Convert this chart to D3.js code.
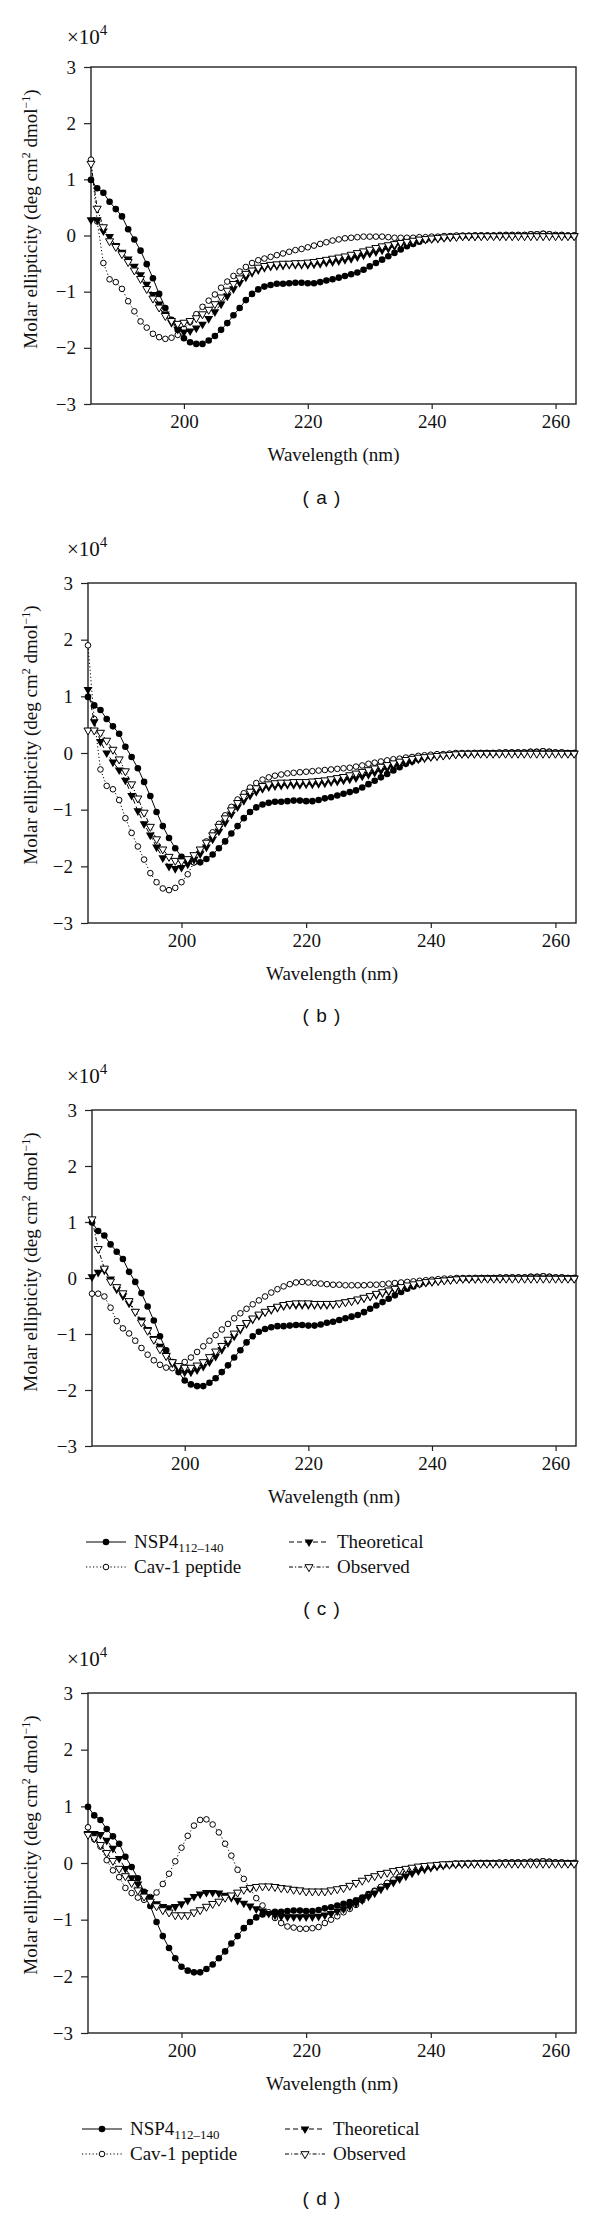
<!DOCTYPE html>
<html><head><meta charset="utf-8">
<script src="https://cdn.jsdelivr.net/npm/d3@7/dist/d3.min.js"></script>
<style>
html,body{margin:0;padding:0;background:#fff;}
svg{display:block;}
text{font-family:"Liberation Serif","Times New Roman",serif;fill:#111;}
</style></head>
<body>
<script>
// Wavelength grid (nm)
const wavelengths = [185,186,187,188,189,190,191,192,193,194,195,196,197,198,199,200,201,202,203,204,205,206,207,208,209,210,211,212,213,214,215,216,217,218,219,220,221,222,223,224,225,226,227,228,229,230,231,232,233,234,235,236,237,238,239,240,241,242,243,244,245,246,247,248,249,250,251,252,253,254,255,256,257,258,259,260,261,262,263];

// Molar ellipticity (x10^4)
const nsp4 = [0.99,0.84,0.76,0.60,0.47,0.34,0.11,-0.07,-0.27,-0.51,
 -0.76,-1.04,-1.29,-1.50,-1.68,-1.83,-1.90,-1.93,-1.93,-1.87,
 -1.79,-1.68,-1.56,-1.42,-1.29,-1.15,-1.04,-0.96,-0.91,-0.88,
 -0.86,-0.86,-0.85,-0.84,-0.84,-0.85,-0.85,-0.83,-0.80,-0.78,
 -0.75,-0.72,-0.69,-0.66,-0.61,-0.55,-0.49,-0.43,-0.37,-0.31,
 -0.25,-0.19,-0.15,-0.11,-0.08,-0.06,-0.04,-0.03,-0.02,-0.01,
 -0.01,-0.01,0,0,0,0,0,0.01,0.01,0.01,
 0.01,0.02,0.02,0.03,0.02,0.01,0.01,0,0];

const cavA = [1.35,0.25,-0.49,-0.78,-0.83,-0.95,-1.17,-1.35,-1.53,-1.64,
 -1.75,-1.81,-1.84,-1.82,-1.77,-1.66,-1.54,-1.40,-1.27,-1.16,
 -1.05,-0.93,-0.82,-0.72,-0.64,-0.56,-0.49,-0.44,-0.41,-0.38,
 -0.35,-0.32,-0.29,-0.26,-0.24,-0.21,-0.18,-0.15,-0.12,-0.09,
 -0.07,-0.05,-0.04,-0.03,-0.02,-0.02,-0.02,-0.02,-0.03,-0.04,
 -0.04,-0.04,-0.04,-0.03,-0.03,-0.02,-0.02,-0.01,-0.01,0,
 0,0,0,0,0,0,0.01,0.01,0.01,0.01,
 0.01,0.02,0.02,0.03,0.02,0.01,0.01,0,0];
const theoA = [0.28,0.28,0.08,-0.02,-0.18,-0.30,-0.42,-0.55,-0.70,-0.87,
 -1.05,-1.22,-1.40,-1.55,-1.67,-1.72,-1.70,-1.65,-1.58,-1.48,
 -1.36,-1.22,-1.08,-0.95,-0.84,-0.74,-0.66,-0.61,-0.57,-0.55,
 -0.54,-0.53,-0.52,-0.52,-0.52,-0.52,-0.51,-0.50,-0.48,-0.47,
 -0.45,-0.43,-0.41,-0.38,-0.35,-0.32,-0.29,-0.26,-0.23,-0.19,
 -0.16,-0.13,-0.10,-0.08,-0.07,-0.06,-0.05,-0.04,-0.03,-0.02,
 -0.01,-0.01,-0.01,0,0,0,0,0,0,0,
 0,0,0,0,0,0,0,0,0];
const obsA = [1.28,0.48,0.15,-0.10,-0.20,-0.33,-0.47,-0.62,-0.77,-0.95,
 -1.12,-1.28,-1.43,-1.52,-1.57,-1.55,-1.52,-1.47,-1.40,-1.32,
 -1.22,-1.10,-0.98,-0.86,-0.76,-0.68,-0.62,-0.57,-0.54,-0.52,
 -0.51,-0.50,-0.50,-0.49,-0.49,-0.48,-0.47,-0.45,-0.43,-0.41,
 -0.39,-0.37,-0.34,-0.31,-0.28,-0.25,-0.22,-0.19,-0.17,-0.15,
 -0.13,-0.11,-0.09,-0.07,-0.06,-0.05,-0.04,-0.03,-0.02,-0.02,
 -0.01,-0.01,-0.01,-0.01,-0.01,-0.01,-0.01,-0.01,-0.01,-0.01,
 -0.01,-0.01,-0.01,-0.01,-0.01,-0.01,-0.01,-0.01,-0.01];

const cavB = [1.90,0.60,-0.29,-0.58,-0.64,-0.83,-1.15,-1.41,-1.65,-1.88,
 -2.12,-2.28,-2.39,-2.42,-2.38,-2.28,-2.14,-1.93,-1.72,-1.56,
 -1.40,-1.25,-1.10,-0.95,-0.82,-0.71,-0.61,-0.53,-0.47,-0.43,
 -0.40,-0.38,-0.36,-0.35,-0.34,-0.33,-0.32,-0.31,-0.30,-0.29,
 -0.28,-0.27,-0.26,-0.24,-0.22,-0.19,-0.17,-0.15,-0.13,-0.11,
 -0.10,-0.08,-0.07,-0.05,-0.04,-0.03,-0.02,-0.02,-0.01,0,
 0,0,0,0,0,0,0.01,0.01,0.01,0.01,
 0.01,0.02,0.02,0.03,0.02,0.01,0.01,0,0];
const theoB = [1.12,0.55,0.20,0.00,-0.16,-0.30,-0.48,-0.75,-1.02,-1.25,
 -1.45,-1.66,-1.85,-2.00,-2.04,-2.02,-1.96,-1.88,-1.78,-1.66,
 -1.52,-1.38,-1.23,-1.08,-0.95,-0.84,-0.75,-0.68,-0.63,-0.60,
 -0.58,-0.57,-0.56,-0.56,-0.56,-0.55,-0.55,-0.54,-0.53,-0.51,
 -0.50,-0.48,-0.46,-0.44,-0.41,-0.38,-0.34,-0.31,-0.27,-0.24,
 -0.20,-0.17,-0.14,-0.11,-0.09,-0.07,-0.05,-0.04,-0.03,-0.02,
 -0.01,-0.01,-0.01,0,0,0,0,0,0,0,
 0,0,0,0,0,0,0,0,0];
const obsB = [0.40,0.40,0.36,0.22,0.06,-0.11,-0.32,-0.55,-0.80,-1.05,
 -1.30,-1.52,-1.70,-1.83,-1.90,-1.91,-1.87,-1.80,-1.70,-1.58,
 -1.45,-1.30,-1.15,-1.01,-0.88,-0.77,-0.68,-0.62,-0.58,-0.55,
 -0.53,-0.52,-0.52,-0.51,-0.51,-0.51,-0.50,-0.49,-0.48,-0.46,
 -0.44,-0.42,-0.39,-0.36,-0.33,-0.30,-0.27,-0.24,-0.21,-0.18,
 -0.15,-0.12,-0.10,-0.08,-0.07,-0.06,-0.05,-0.04,-0.03,-0.02,
 -0.01,-0.01,-0.01,-0.01,-0.01,-0.01,-0.01,-0.01,-0.01,-0.01,
 -0.01,-0.01,-0.01,-0.01,-0.01,-0.01,-0.01,-0.01,-0.01];

const cavC = [-0.28,-0.28,-0.33,-0.53,-0.77,-0.90,-0.99,-1.12,-1.25,-1.37,
 -1.47,-1.55,-1.60,-1.61,-1.58,-1.50,-1.42,-1.32,-1.22,-1.12,
 -1.02,-0.92,-0.82,-0.72,-0.63,-0.55,-0.47,-0.40,-0.33,-0.26,
 -0.20,-0.15,-0.11,-0.08,-0.07,-0.08,-0.09,-0.10,-0.11,-0.12,
 -0.12,-0.13,-0.13,-0.13,-0.13,-0.12,-0.12,-0.11,-0.10,-0.09,
 -0.08,-0.07,-0.06,-0.05,-0.04,-0.03,-0.02,-0.01,-0.01,0,
 0,0,0,0,0,0,0.01,0.01,0.01,0.01,
 0.01,0.02,0.02,0.03,0.02,0.01,0.01,0,0];
const theoC = [0.02,0.10,0.14,-0.02,-0.20,-0.32,-0.45,-0.60,-0.75,-0.92,
 -1.08,-1.22,-1.38,-1.52,-1.62,-1.68,-1.68,-1.64,-1.58,-1.50,
 -1.40,-1.28,-1.16,-1.04,-0.92,-0.82,-0.74,-0.67,-0.61,-0.57,
 -0.53,-0.50,-0.48,-0.48,-0.48,-0.48,-0.48,-0.48,-0.48,-0.47,
 -0.45,-0.43,-0.41,-0.39,-0.36,-0.33,-0.30,-0.27,-0.24,-0.21,
 -0.18,-0.15,-0.12,-0.10,-0.08,-0.07,-0.05,-0.04,-0.03,-0.02,
 -0.01,-0.01,-0.01,0,0,0,0,0,0,0,
 0,0,0,0,0,0,0,0,0];
const obsC = [1.05,0.52,0.17,-0.06,-0.16,-0.27,-0.41,-0.60,-0.79,-0.94,
 -1.10,-1.27,-1.39,-1.50,-1.57,-1.60,-1.60,-1.56,-1.50,-1.41,
 -1.31,-1.21,-1.10,-0.99,-0.89,-0.80,-0.72,-0.65,-0.60,-0.55,
 -0.51,-0.48,-0.46,-0.45,-0.45,-0.45,-0.46,-0.46,-0.46,-0.46,
 -0.45,-0.43,-0.41,-0.38,-0.35,-0.32,-0.28,-0.25,-0.22,-0.19,
 -0.16,-0.13,-0.11,-0.09,-0.07,-0.06,-0.05,-0.04,-0.03,-0.02,
 -0.01,-0.01,-0.01,-0.01,-0.01,-0.01,-0.01,-0.01,-0.01,-0.01,
 -0.01,-0.01,-0.01,-0.01,-0.01,-0.01,-0.01,-0.01,-0.01];

const cavD = [0.63,0.42,0.29,0.05,-0.13,-0.25,-0.44,-0.53,-0.61,-0.65,
 -0.60,-0.52,-0.37,-0.19,0.03,0.27,0.48,0.66,0.76,0.77,
 0.68,0.54,0.34,0.13,-0.12,-0.28,-0.45,-0.62,-0.75,-0.87,
 -0.97,-1.06,-1.12,-1.14,-1.16,-1.16,-1.15,-1.13,-1.06,-1.00,
 -0.94,-0.87,-0.81,-0.74,-0.66,-0.58,-0.50,-0.42,-0.35,-0.29,
 -0.24,-0.19,-0.15,-0.12,-0.09,-0.07,-0.05,-0.04,-0.03,-0.02,
 -0.01,0,0,0,0,0,0.01,0.01,0.01,0.01,
 0.01,0.02,0.02,0.03,0.02,0.01,0.01,0,0];
const theoD = [0.52,0.52,0.50,0.40,0.26,0.08,-0.10,-0.26,-0.37,-0.52,
 -0.61,-0.72,-0.77,-0.79,-0.77,-0.72,-0.66,-0.59,-0.55,-0.52,
 -0.52,-0.53,-0.57,-0.61,-0.66,-0.71,-0.76,-0.81,-0.85,-0.89,
 -0.92,-0.94,-0.95,-0.95,-0.95,-0.95,-0.95,-0.94,-0.92,-0.89,
 -0.85,-0.81,-0.76,-0.71,-0.65,-0.59,-0.53,-0.46,-0.40,-0.34,
 -0.28,-0.23,-0.18,-0.14,-0.11,-0.08,-0.06,-0.04,-0.03,-0.02,
 -0.01,-0.01,-0.01,0,0,0,0,0,0,0,
 0,0,0,0,0,0,0,0,0];
const obsD = [0.50,0.44,0.32,0.18,0.04,-0.10,-0.23,-0.35,-0.48,-0.59,
 -0.68,-0.76,-0.83,-0.87,-0.92,-0.92,-0.92,-0.87,-0.83,-0.77,
 -0.72,-0.68,-0.61,-0.57,-0.52,-0.47,-0.44,-0.42,-0.41,-0.41,
 -0.42,-0.44,-0.45,-0.47,-0.48,-0.50,-0.50,-0.50,-0.50,-0.48,
 -0.46,-0.44,-0.40,-0.35,-0.31,-0.26,-0.23,-0.19,-0.17,-0.14,
 -0.12,-0.10,-0.08,-0.06,-0.05,-0.04,-0.03,-0.02,-0.02,-0.01,
 -0.01,-0.01,-0.01,-0.01,-0.01,-0.01,-0.01,-0.01,-0.01,-0.01,
 -0.01,-0.01,-0.01,-0.01,-0.01,-0.01,-0.01,-0.01,-0.01];

// Axis ticks and labels
const xTicks = [200, 220, 240, 260];
const yTicks = [3, 2, 1, 0, -1, -2, -3];
const xDomain = [185, 263.3];
const yDomain = [-3, 3];
const seriesNames = ["NSP4", "Cav-1 peptide", "Theoretical", "Observed"];

const panels = [
  {letter:"a", cav:cavA, theo:theoA, obs:obsA, L:91, R:576, T:67,   B:404,  expY:-23, lab:94,  legend:false},
  {letter:"b", cav:cavB, theo:theoB, obs:obsB, L:88, R:576, T:583,  B:923,  expY:-27, lab:93,  legend:false},
  {letter:"c", cav:cavC, theo:theoC, obs:obsC, L:92, R:576, T:1110, B:1446, expY:-27, lab:163, legend:true},
  {letter:"d", cav:cavD, theo:theoD, obs:obsD, L:88, R:576, T:1693, B:2033, expY:-27, lab:166, legend:true}
];

const svg = d3.select("body").append("svg").attr("width", 600).attr("height", 2215);
svg.append("rect").attr("width", 600).attr("height", 2215).attr("fill", "#fff");

const styles = {
  nsp4: {dash: null,        marker: "fcircle"},
  cav:  {dash: "1.2,2.3",   marker: "ocircle"},
  theo: {dash: "5,3",       marker: "ftri"},
  obs:  {dash: "4,2,1.2,2", marker: "otri"}
};

function drawMarker(g, type, x, y) {
  if (type === "fcircle") {
    g.append("circle").attr("cx", x).attr("cy", y).attr("r", 3.3).attr("fill", "#000");
  } else if (type === "ocircle") {
    g.append("circle").attr("cx", x).attr("cy", y).attr("r", 2.8).attr("fill", "#fff").attr("stroke", "#000").attr("stroke-width", 1);
  } else if (type === "ftri") {
    g.append("path").attr("d", d3.symbol().type(d3.symbolTriangle).size(34)())
      .attr("transform", `translate(${x},${y}) rotate(180)`).attr("fill", "#000");
  } else {
    g.append("path").attr("d", d3.symbol().type(d3.symbolTriangle).size(28)())
      .attr("transform", `translate(${x},${y}) rotate(180)`).attr("fill", "#fff").attr("stroke", "#000").attr("stroke-width", 1);
  }
}

panels.forEach(p => {
  const x = d3.scaleLinear().domain(xDomain).range([p.L, p.R]);
  const y = d3.scaleLinear().domain(yDomain).range([p.B, p.T]);
  const g = svg.append("g");

  // axes
  const xa = g.append("g").attr("transform", `translate(0,${p.B})`)
    .call(d3.axisBottom(x).tickValues(xTicks).tickSize(5).tickSizeOuter(0).tickPadding(5).tickFormat(d3.format("d")));
  const ya = g.append("g").attr("transform", `translate(${p.L},0)`)
    .call(d3.axisLeft(y).tickValues(yTicks).tickSize(7).tickSizeOuter(0).tickPadding(8).tickFormat(d3.format("d")));
  [xa, ya].forEach(a => {
    a.select(".domain").remove();
    a.selectAll(".tick line").attr("stroke", "#222").attr("stroke-width", 1.2);
    a.selectAll(".tick text").style("font-family", '"Liberation Serif","Times New Roman",serif')
      .style("font-size", "19px").attr("fill", "#111");
  });
  xa.selectAll(".tick text").attr("dy", "0.75em");
  g.append("rect").attr("x", p.L).attr("y", p.T).attr("width", p.R - p.L).attr("height", p.B - p.T)
    .attr("fill", "none").attr("stroke", "#222").attr("stroke-width", 1.4);

  // exponent label
  const ex = g.append("text").attr("x", 67).attr("y", p.T + p.expY).style("font-size", "21px");
  ex.append("tspan").text("×10");
  ex.append("tspan").attr("dy", -9).style("font-size", "15px").text("4");

  // axis titles
  g.append("text").attr("x", (p.L + p.R) / 2).attr("y", p.B + 57).attr("text-anchor", "middle")
    .style("font-size", "19px").text("Wavelength (nm)");
  const yt = g.append("text").attr("transform", `translate(37,${p.T + 152}) rotate(-90)`)
    .attr("text-anchor", "middle").style("font-size", "19px");
  yt.append("tspan").text("Molar ellipticity (deg cm");
  yt.append("tspan").attr("dy", -7).style("font-size", "12px").text("2");
  yt.append("tspan").attr("dy", 7).text(" dmol");
  yt.append("tspan").attr("dy", -7).style("font-size", "12px").text("−1");
  yt.append("tspan").attr("dy", 7).text(")");

  // series
  const series = [
    {vals: nsp4, st: styles.nsp4},
    {vals: p.cav, st: styles.cav},
    {vals: p.theo, st: styles.theo},
    {vals: p.obs, st: styles.obs}
  ];
  const line = d3.line().x((d, i) => x(wavelengths[i])).y(d => y(d));
  series.forEach(s => {
    const sg = g.append("g");
    sg.append("path").attr("d", line(s.vals)).attr("fill", "none").attr("stroke", "#000")
      .attr("stroke-width", 1).attr("stroke-dasharray", s.st.dash);
    s.vals.forEach((v, i) => drawMarker(sg, s.st.marker, x(wavelengths[i]), y(v)));
  });

  // legend
  if (p.legend) {
    const r1 = p.B + 96, r2 = p.B + 121;
    const lg = g.append("g");
    const items = [
      {st: styles.nsp4, x0: p.L - 6, yy: r1, name: seriesNames[0], sub: "112–140"},
      {st: styles.cav,  x0: p.L - 6, yy: r2, name: seriesNames[1]},
      {st: styles.theo, x0: p.L + 197, yy: r1, name: seriesNames[2]},
      {st: styles.obs,  x0: p.L + 197, yy: r2, name: seriesNames[3]}
    ];
    items.forEach(it => {
      lg.append("line").attr("x1", it.x0).attr("x2", it.x0 + 40).attr("y1", it.yy).attr("y2", it.yy)
        .attr("stroke", "#000").attr("stroke-width", 1.2).attr("stroke-dasharray", it.st.dash);
      drawMarker(lg, it.st.marker, it.x0 + 20, it.yy);
      const t = lg.append("text").attr("x", it.x0 + 48).attr("y", it.yy + 6).style("font-size", "19px");
      t.append("tspan").text(it.name);
      if (it.sub) t.append("tspan").attr("dy", 4).style("font-size", "13px").text(it.sub);
    });
  }

  // panel label
  g.append("text").attr("x", 322).attr("y", p.B + p.lab + 6).attr("text-anchor", "middle")
    .style("font-family", '"Liberation Sans",Arial,sans-serif').style("font-size", "19px")
    .style("letter-spacing", "1px")
    .text(`( ${p.letter} )`);
});
</script>
</body></html>
